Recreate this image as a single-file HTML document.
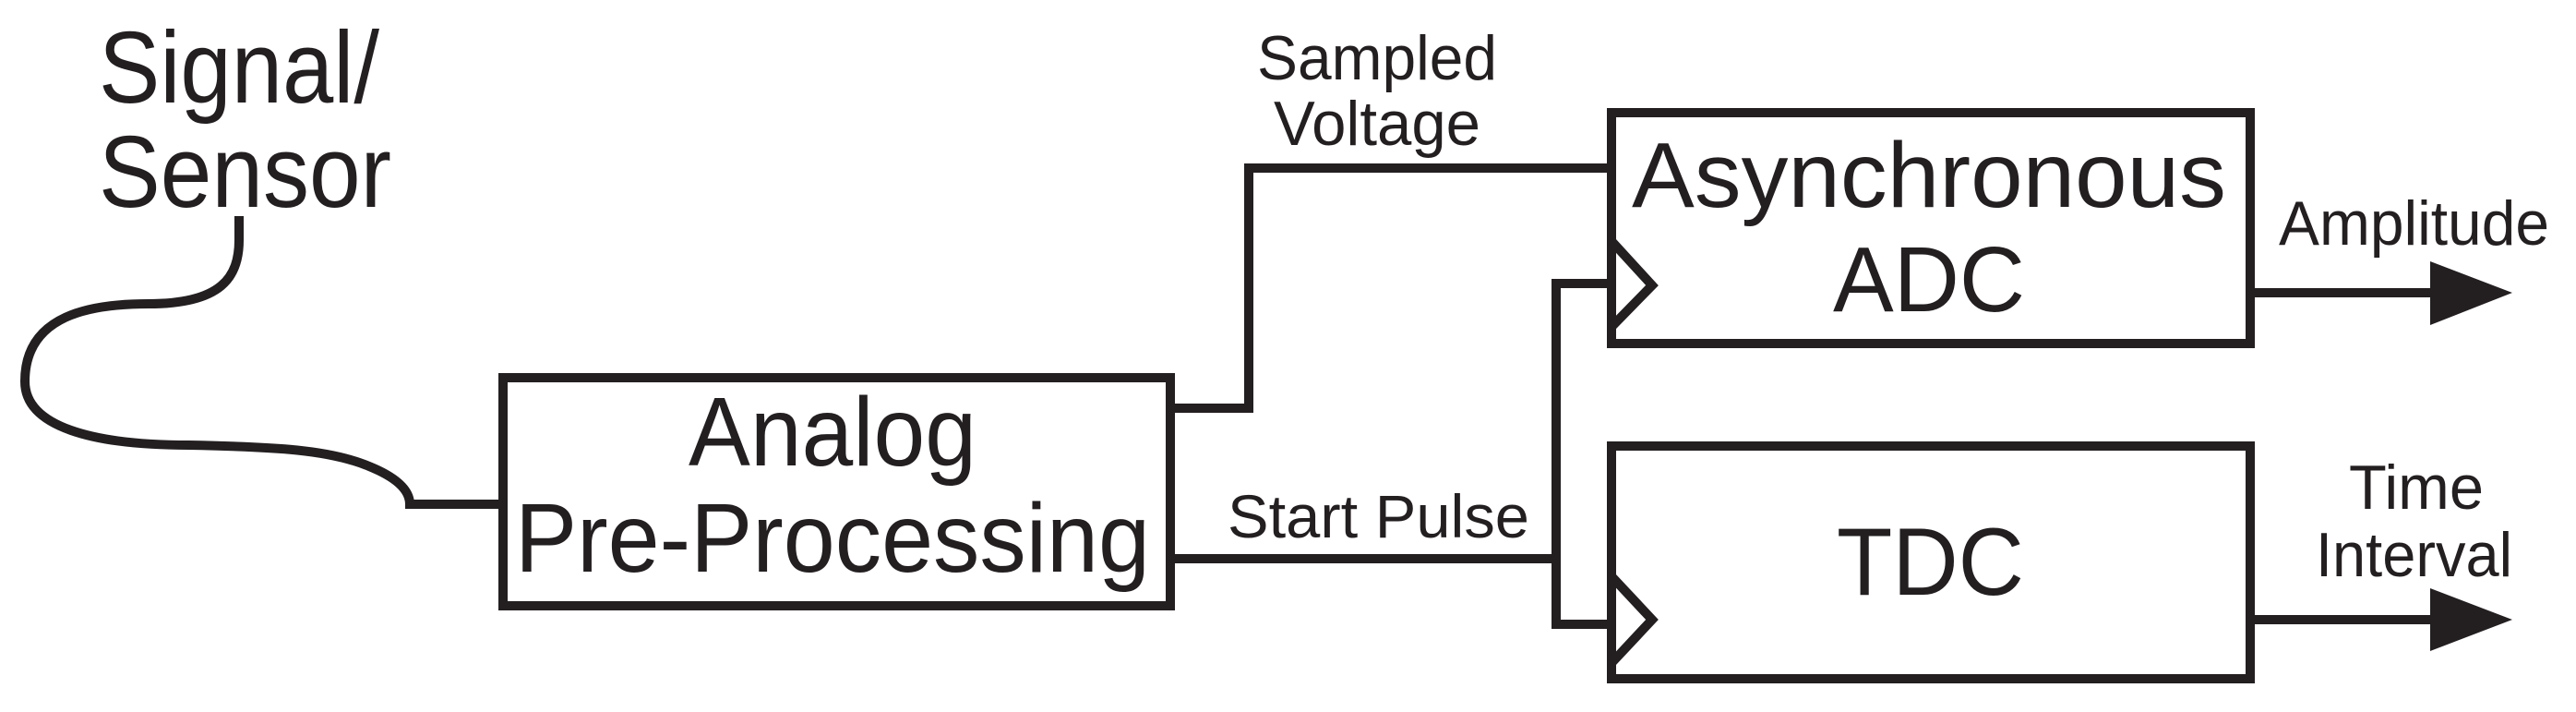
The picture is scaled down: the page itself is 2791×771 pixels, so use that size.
<!DOCTYPE html>
<html><head><style>html,body{margin:0;padding:0;background:#fff}svg{display:block}</style></head>
<body>
<svg width="2791" height="771" viewBox="0 0 2791 771" xmlns="http://www.w3.org/2000/svg">
<g fill="none" stroke="#231f20" stroke-width="10" stroke-linejoin="miter">
<rect x="545" y="409" width="723" height="247"/>
<rect x="1746" y="122" width="692" height="250"/>
<rect x="1746" y="483" width="692" height="252"/>
<path d="M259,234 L259,260 C259,300 240,329 161,329 C100,329 27,340 27,413 C27,462 100,482 205,482 C300,484 357,487 400,505 C437,520 444,535 444,546 L545,546"/>
<polyline points="1268,442 1353,442 1353,182 1746,182"/>
<polyline points="1268,605 1686,605"/>
<polyline points="1746,307 1686,307 1686,676 1746,676"/>
<polyline points="1746,261 1790,309 1746,354"/>
<polyline points="1746,624 1790,671 1746,718"/>
<line x1="2438" y1="317" x2="2640" y2="317"/>
<line x1="2438" y1="671" x2="2640" y2="671"/>
</g>
<g fill="#231f20">
<polygon points="2633,283 2722,317 2633,352"/>
<polygon points="2633,637 2722,671 2633,705"/>
</g>
<g font-family="Liberation Sans, sans-serif" fill="#231f20">
<text x="107" y="111" font-size="110" textLength="304" lengthAdjust="spacingAndGlyphs">Signal/</text>
<text x="107" y="224" font-size="110" textLength="317" lengthAdjust="spacingAndGlyphs">Sensor</text>
<text x="746" y="504" font-size="106" textLength="312" lengthAdjust="spacingAndGlyphs">Analog</text>
<text x="558" y="619" font-size="106" textLength="688" lengthAdjust="spacingAndGlyphs">Pre-Processing</text>
<text x="1768" y="224" font-size="100" textLength="644" lengthAdjust="spacingAndGlyphs">Asynchronous</text>
<text x="1986" y="337" font-size="100" textLength="208" lengthAdjust="spacingAndGlyphs">ADC</text>
<text x="1990" y="644" font-size="104" textLength="203" lengthAdjust="spacingAndGlyphs">TDC</text>
<text x="1362" y="86" font-size="68" textLength="260" lengthAdjust="spacingAndGlyphs">Sampled</text>
<text x="1380" y="157" font-size="68" textLength="224" lengthAdjust="spacingAndGlyphs">Voltage</text>
<text x="1330" y="582" font-size="66" textLength="327" lengthAdjust="spacingAndGlyphs">Start Pulse</text>
<text x="2469" y="265" font-size="68" textLength="293" lengthAdjust="spacingAndGlyphs">Amplitude</text>
<text x="2545" y="551" font-size="68" textLength="146" lengthAdjust="spacingAndGlyphs">Time</text>
<text x="2509" y="624" font-size="68" textLength="213" lengthAdjust="spacingAndGlyphs">Interval</text>
</g>
</svg>
</body></html>
